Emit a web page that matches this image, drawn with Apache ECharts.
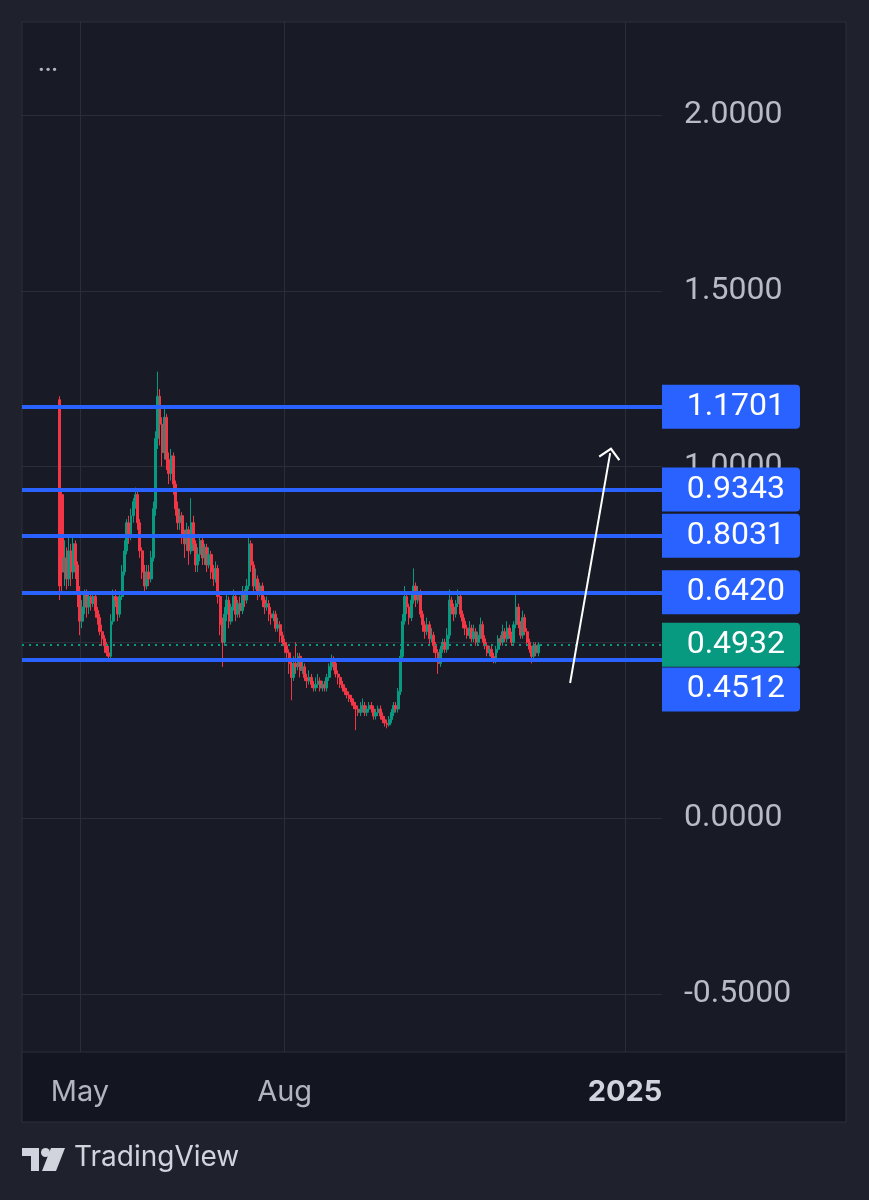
<!DOCTYPE html>
<html>
<head>
<meta charset="utf-8">
<script src="https://cdn.jsdelivr.net/npm/echarts@6/dist/echarts.min.js"></script>
<style>
html,body{margin:0;padding:0;background:#1f222c;}
#c{width:869px;height:1200px;}
</style>
</head>
<body>
<div id="c"></div>
<script>
// ---- data (daily candles, starting 2024-04-22) ----
var startDate = [2024, 3, 22];
var opens = [
1.19,0.92,0.70,0.74,0.68,0.76,0.70,0.78,0.72,0.64,
0.56,0.60,0.64,0.60,0.63,0.61,0.63,0.59,0.57,0.53,
0.51,0.49,0.47,0.46,0.56,0.63,0.62,0.58,0.63,0.70,
0.76,0.84,0.80,0.86,0.90,0.92,0.84,0.76,0.70,0.66,
0.70,0.68,0.74,0.88,1.08,1.20,1.12,1.04,1.14,1.02,
0.98,1.03,0.95,0.88,0.84,0.86,0.80,0.78,0.82,0.76,
0.84,0.78,0.72,0.75,0.79,0.74,0.77,0.72,0.75,0.70,
0.68,0.71,0.63,0.55,0.50,0.58,0.62,0.56,0.60,0.63,
0.58,0.61,0.59,0.64,0.62,0.66,0.78,0.72,0.66,0.68,
0.64,0.66,0.62,0.60,0.61,0.58,0.57,0.58,0.54,0.55,
0.52,0.50,0.49,0.47,0.44,0.40,0.44,0.43,0.46,0.42,
0.43,0.40,0.39,0.40,0.38,0.37,0.38,0.39,0.37,0.38,
0.37,0.40,0.43,0.45,0.44,0.41,0.40,0.38,0.37,0.36,
0.35,0.34,0.33,0.32,0.31,0.30,0.31,0.32,0.30,0.31,
0.32,0.31,0.29,0.30,0.31,0.29,0.28,0.27,0.265,0.28,
0.30,0.32,0.31,0.36,0.46,0.56,0.63,0.60,0.57,0.62,
0.66,0.62,0.64,0.58,0.55,0.53,0.55,0.51,0.52,0.49,
0.47,0.44,0.48,0.50,0.48,0.52,0.62,0.60,0.58,0.61,
0.63,0.58,0.56,0.54,0.52,0.54,0.51,0.53,0.50,0.52,
0.55,0.51,0.49,0.47,0.48,0.46,0.45,0.48,0.51,0.50,
0.53,0.51,0.54,0.52,0.50,0.55,0.60,0.55,0.52,0.57,
0.53,0.50,0.48,0.46,0.49,0.47
];
var closes = [
0.66,0.70,0.74,0.68,0.76,0.70,0.78,0.72,0.64,0.56,
0.60,0.64,0.60,0.63,0.61,0.63,0.59,0.57,0.53,0.51,
0.49,0.47,0.46,0.56,0.63,0.62,0.58,0.63,0.70,0.76,
0.84,0.80,0.86,0.90,0.92,0.84,0.76,0.70,0.66,0.70,
0.68,0.74,0.88,1.08,1.20,1.12,1.04,1.14,1.02,0.98,
1.03,0.95,0.88,0.84,0.86,0.80,0.78,0.82,0.76,0.84,
0.78,0.72,0.75,0.79,0.74,0.77,0.72,0.75,0.70,0.68,
0.71,0.63,0.55,0.50,0.58,0.62,0.56,0.60,0.63,0.58,
0.61,0.59,0.64,0.62,0.66,0.78,0.72,0.66,0.68,0.64,
0.66,0.62,0.60,0.61,0.58,0.57,0.58,0.54,0.55,0.52,
0.50,0.49,0.47,0.44,0.40,0.44,0.43,0.46,0.42,0.43,
0.40,0.39,0.40,0.38,0.37,0.38,0.39,0.37,0.38,0.37,
0.40,0.43,0.45,0.44,0.41,0.40,0.38,0.37,0.36,0.35,
0.34,0.33,0.32,0.31,0.30,0.31,0.32,0.30,0.31,0.32,
0.31,0.29,0.30,0.31,0.29,0.28,0.27,0.265,0.28,0.30,
0.32,0.31,0.36,0.46,0.56,0.63,0.60,0.57,0.62,0.66,
0.62,0.64,0.58,0.55,0.53,0.55,0.51,0.52,0.49,0.47,
0.44,0.48,0.50,0.48,0.52,0.62,0.60,0.58,0.61,0.63,
0.58,0.56,0.54,0.52,0.54,0.51,0.53,0.50,0.52,0.55,
0.51,0.49,0.47,0.48,0.46,0.45,0.48,0.51,0.50,0.53,
0.51,0.54,0.52,0.50,0.55,0.60,0.55,0.52,0.57,0.53,
0.50,0.48,0.46,0.49,0.47,0.4932
];
var highs = [
1.20,0.93,0.79,0.77,0.80,0.78,0.80,0.79,0.73,0.66,
0.62,0.65,0.65,0.64,0.64,0.64,0.64,0.60,0.58,0.55,
0.52,0.50,0.49,0.58,0.65,0.65,0.63,0.64,0.72,0.79,
0.85,0.86,0.88,0.91,0.94,0.93,0.85,0.77,0.72,0.72,
0.72,0.76,0.90,1.10,1.27,1.22,1.14,1.17,1.15,1.04,
1.05,1.04,0.96,0.90,0.88,0.87,0.82,0.84,0.83,0.91,
0.86,0.79,0.77,0.80,0.80,0.78,0.78,0.77,0.76,0.72,
0.73,0.72,0.64,0.57,0.60,0.64,0.63,0.61,0.65,0.64,
0.62,0.63,0.66,0.65,0.68,0.80,0.79,0.73,0.71,0.69,
0.67,0.67,0.63,0.63,0.62,0.60,0.59,0.59,0.57,0.56,
0.53,0.51,0.50,0.48,0.45,0.46,0.50,0.47,0.47,0.45,
0.44,0.41,0.42,0.41,0.39,0.40,0.41,0.40,0.39,0.39,
0.41,0.44,0.465,0.46,0.45,0.42,0.41,0.39,0.38,0.37,
0.36,0.35,0.34,0.33,0.32,0.33,0.34,0.33,0.32,0.33,
0.33,0.32,0.31,0.32,0.32,0.30,0.29,0.28,0.29,0.31,
0.33,0.33,0.37,0.48,0.58,0.66,0.64,0.61,0.64,0.71,
0.67,0.66,0.65,0.59,0.56,0.57,0.56,0.54,0.53,0.50,
0.48,0.49,0.51,0.51,0.54,0.65,0.63,0.61,0.62,0.65,
0.64,0.59,0.57,0.55,0.56,0.55,0.55,0.54,0.53,0.57,
0.56,0.52,0.50,0.49,0.49,0.47,0.49,0.52,0.52,0.55,
0.54,0.56,0.55,0.53,0.56,0.64,0.61,0.56,0.59,0.58,
0.54,0.51,0.49,0.50,0.50,0.50
];
var lows = [
0.62,0.64,0.66,0.65,0.66,0.66,0.68,0.68,0.60,0.52,
0.54,0.58,0.57,0.58,0.59,0.60,0.57,0.55,0.52,0.49,
0.47,0.46,0.45,0.45,0.55,0.60,0.56,0.57,0.62,0.69,
0.75,0.78,0.79,0.84,0.88,0.82,0.74,0.68,0.64,0.65,
0.66,0.67,0.73,0.86,1.05,1.06,1.00,1.02,0.99,0.95,
0.96,0.92,0.86,0.82,0.82,0.78,0.74,0.76,0.72,0.75,
0.76,0.70,0.70,0.73,0.72,0.72,0.70,0.71,0.68,0.66,
0.67,0.61,0.52,0.43,0.49,0.56,0.54,0.55,0.59,0.56,
0.57,0.57,0.58,0.60,0.61,0.65,0.70,0.64,0.65,0.62,
0.63,0.60,0.58,0.59,0.56,0.55,0.56,0.53,0.53,0.50,
0.49,0.47,0.45,0.41,0.335,0.39,0.41,0.42,0.40,0.41,
0.39,0.37,0.38,0.37,0.36,0.36,0.37,0.36,0.36,0.36,
0.36,0.39,0.42,0.42,0.40,0.38,0.37,0.36,0.35,0.34,
0.33,0.32,0.31,0.25,0.29,0.29,0.30,0.29,0.29,0.30,
0.30,0.28,0.28,0.29,0.28,0.27,0.26,0.255,0.26,0.27,
0.29,0.30,0.30,0.35,0.45,0.55,0.58,0.55,0.56,0.61,
0.60,0.61,0.57,0.53,0.51,0.52,0.49,0.50,0.47,0.45,
0.41,0.43,0.47,0.47,0.47,0.51,0.58,0.56,0.57,0.60,
0.57,0.54,0.52,0.51,0.51,0.50,0.50,0.49,0.49,0.51,
0.50,0.48,0.46,0.46,0.45,0.44,0.44,0.47,0.49,0.49,
0.50,0.50,0.51,0.49,0.49,0.54,0.54,0.51,0.51,0.52,
0.49,0.47,0.44,0.45,0.46,0.46
];
var levelValues = [1.1701, 0.9343, 0.8031, 0.6420, 0.4512];
var lastPrice = 0.4932;
var yTickValues = [-0.5, 0, 0.5, 1.0, 1.5, 2.0];
var xTickDates = [[2024, 4, 1], [2024, 7, 1], [2025, 0, 1]];
var arrowFrom = [[2024, 11, 7, 7], 0.384];
var arrowTo = [[2024, 11, 25, 7], 1.038];

// ---- build ----
function ts(a) { return new Date(a[0], a[1], a[2], a[3] || 0).getTime(); }
var candleData = [];
for (var i = 0; i < closes.length; i++) {
  var t = new Date(startDate[0], startDate[1], startDate[2] + i).getTime();
  candleData.push([t, opens[i], closes[i], lows[i], highs[i]]);
}
var xTicks = xTickDates.map(ts);
var MONTHS = ['Jan','Feb','Mar','Apr','May','Jun','Jul','Aug','Sep','Oct','Nov','Dec'];
var FONT = 'Inter, "Noto Sans", sans-serif';
var NUMFONT = 'Roboto, Inter, sans-serif';
var BLUE = '#2962ff', GREEN = '#089981', RED = '#f23645', GRID = '#2a2e39';

function boxLabel(bg, offsetY) {
  return {
    show: true, position: 'end', distance: 0,
    offset: [0, offsetY || 0],
    formatter: function (p) { return '{a|' + Number(p.value).toFixed(4) + '}'; },
    rich: {
      a: {
        backgroundColor: bg, color: '#ffffff', fontFamily: NUMFONT, fontSize: 32,
        width: 123, height: 44, lineHeight: 44, align: 'right',
        padding: [0, 15, 0, 0], borderRadius: [0, 4, 4, 0]
      }
    }
  };
}

var levelLines = levelValues.map(function (v, k) {
  return {
    yAxis: v,
    lineStyle: { color: BLUE, width: 4, type: 'solid' },
    label: boxLabel(BLUE, k === levelValues.length - 1 ? 30 : 0)
  };
});
levelLines.splice(4, 0, {
  yAxis: lastPrice,
  lineStyle: { color: GREEN, width: 2, type: [2, 5] },
  label: boxLabel(GREEN, 0)
});

var chart = echarts.init(document.getElementById('c'), null, { renderer: 'canvas' });
chart.setOption({
  animation: false,
  backgroundColor: 'transparent',
  grid: { left: 22, right: 207, top: 22, bottom: 148, containLabel: false },
  xAxis: {
    type: 'value',
    min: new Date(2024, 3, 5).getTime(),
    max: new Date(2025, 0, 17, 14).getTime(),
    axisLine: { show: false },
    axisTick: { show: false, customValues: xTicks },
    splitLine: { show: true, lineStyle: { color: GRID, width: 1 } },
    axisLabel: {
      customValues: xTicks,
      margin: 26,
      fontFamily: FONT, fontSize: 29, color: '#b2b5be',
      formatter: function (v) {
        var d = new Date(v);
        if (d.getMonth() === 0) return '{y|' + d.getFullYear() + '}';
        return MONTHS[d.getMonth()];
      },
      rich: { y: { fontFamily: FONT, fontSize: 29, fontWeight: 'bold', color: '#d1d4dc' } }
    }
  },
  yAxis: {
    type: 'value', position: 'right',
    min: -0.6657, max: 2.2646,
    axisLine: { show: false },
    axisTick: { show: false, customValues: yTickValues },
    splitLine: { show: true, lineStyle: { color: GRID, width: 1 } },
    axisLabel: {
      customValues: yTickValues,
      margin: 22, align: 'left',
      fontFamily: NUMFONT, fontSize: 32, color: '#b8bbc4',
      formatter: function (v) { return Number(v).toFixed(4); }
    }
  },
  series: [
    {
      type: 'candlestick',
      data: candleData,
      encode: { x: 0, y: [1, 2, 3, 4] },
      barWidth: 2.4,
      large: false,
      itemStyle: { color: GREEN, color0: RED, borderColor: GREEN, borderColor0: RED, borderWidth: 1 },
      markLine: {
        silent: true, symbol: 'none', precision: 4,
        data: levelLines
      }
    },
    {
      type: 'line', data: [],
      markLine: {
        silent: true, precision: 4,
        symbol: ['none', 'path://M0,10 L10,0 L20,10 L18.6,11.4 L10,2.8 L1.4,11.4 Z'],
        symbolSize: [22, 12],
        label: { show: false },
        lineStyle: { color: '#ffffff', width: 2, type: 'solid' },
        data: [[
          { coord: [ts(arrowFrom[0]), arrowFrom[1]] },
          { coord: [ts(arrowTo[0]), arrowTo[1]] }
        ]]
      }
    }
  ],
  graphic: [
    { type: 'rect', z: -10, shape: { x: 22, y: 22, width: 824, height: 1100 },
      style: { fill: '#181b25', stroke: GRID, lineWidth: 1 } },
    { type: 'rect', z: -9, shape: { x: 22, y: 1052, width: 824, height: 70 },
      style: { fill: '#131620', stroke: GRID, lineWidth: 1 } },
    { type: 'text', left: 38, top: 60,
      style: { text: '···', fill: '#b2b5be', font: 'bold 20px ' + FONT } },
    { type: 'group', left: 22, top: 1148, children: [
      { type: 'polygon', shape: { points: [[0,0],[17,0],[17,23],[9,23],[9,8],[0,8]] }, style: { fill: '#d1d4dc' } },
      { type: 'circle', shape: { cx: 23.5, cy: 4.5, r: 4.5 }, style: { fill: '#d1d4dc' } },
      { type: 'polygon', shape: { points: [[29,0],[43,0],[34,23],[20,23]] }, style: { fill: '#d1d4dc' } }
    ] },
    { type: 'text', left: 74, top: 1144,
      style: { text: 'TradingView', fill: '#d1d4dc', font: '28px ' + FONT } }
  ]
});
</script>
</body>
</html>
